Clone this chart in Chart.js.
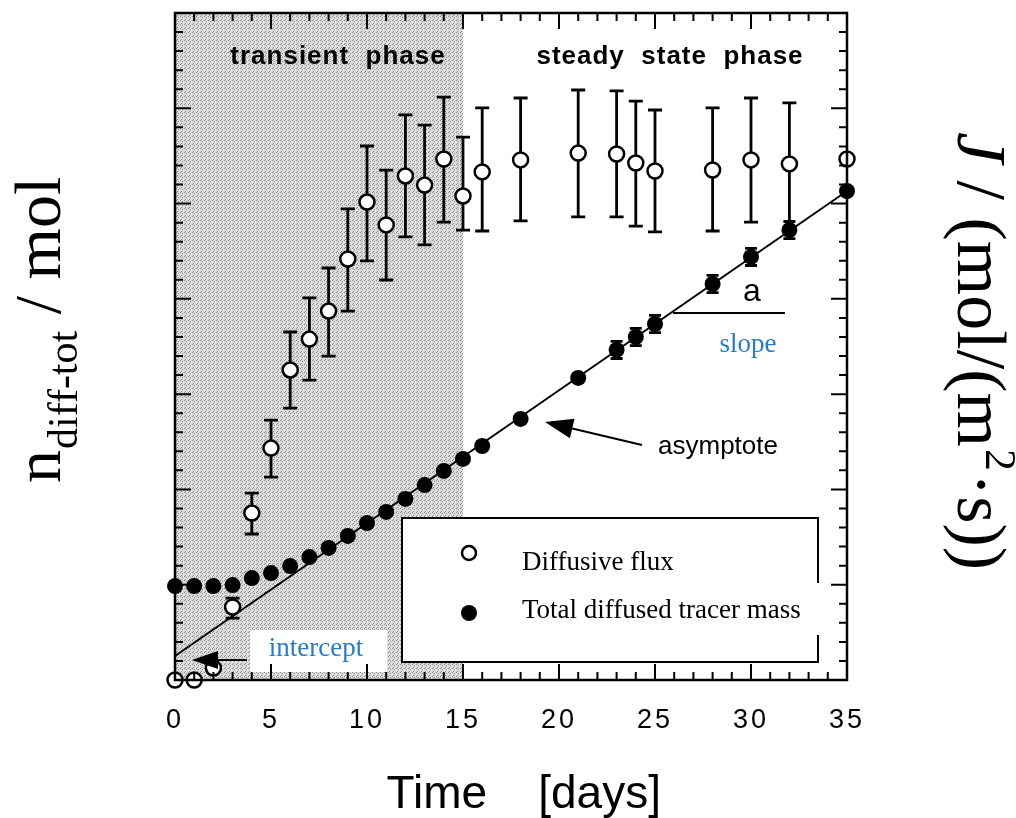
<!DOCTYPE html>
<html>
<head>
<meta charset="utf-8">
<script src="https://cdn.jsdelivr.net/npm/chart.js@4.4.1/dist/chart.umd.min.js"></script>
<style>
  html, body { margin: 0; padding: 0; background: #fff; }
</style>
</head>
<body>
<canvas id="chart" width="1016" height="818"></canvas>
<script>
// sampling days
const days = [0, 1, 2, 3, 4, 5, 6, 7, 8, 9, 10, 11, 12, 13, 14, 15, 16, 18, 21, 23, 24, 25, 28, 30, 32, 35];
// diffusive flux (open circles) and its error bar ends, arbitrary units
const fluxValues = [0, 0, 0.63, 3.83, 8.76, 12.17, 16.27, 17.89, 19.36, 22.09, 25.08, 23.88, 26.45, 25.97, 27.34, 25.4, 26.66, 27.29, 27.65, 27.6, 27.13, 26.71, 26.76, 27.29, 27.08, 27.34];
const fluxHigh = [null, null, null, 4.30, 9.81, 13.64, 18.26, 20.05, 21.62, 24.72, 28.02, 26.76, 29.65, 29.12, 30.59, 28.49, 30.02, 30.54, 30.96, 30.91, 30.38, 29.91, 30.02, 30.54, 30.28, null];
const fluxLow = [null, null, null, 3.25, 7.66, 10.65, 14.27, 15.74, 17.0, 19.36, 21.99, 20.99, 23.25, 22.83, 24.03, 23.61, 23.56, 24.09, 24.30, 24.30, 23.82, 23.51, 23.56, 24.03, 23.72, null];
// total diffused tracer mass (filled circles)
const massValues = [4.93, 4.93, 4.93, 4.98, 5.35, 5.61, 5.98, 6.45, 6.93, 7.56, 8.24, 8.82, 9.5, 10.23, 10.97, 11.6, 12.28, 13.7, 15.85, 17.32, 18.0, 18.68, 20.78, 22.2, 23.61, 25.66];
const massErr = [0, 0, 0, 0, 0, 0, 0, 0, 0, 0, 0, 0, 0, 0, 0, 0, 0, 0, 0, 0.45, 0.45, 0.45, 0.45, 0.45, 0.45, 0];
// fitted asymptote
const asymptoteDays = [0, 35];
const asymptoteValues = [1.26, 25.66];
// transient phase range
const transientPhase = [0, 15];
const xTickLabels = ['0', '5', '10', '15', '20', '25', '30', '35'];

const SANS = '"Liberation Sans", Arial, sans-serif';
const SERIF = '"Liberation Serif", "Times New Roman", serif';
const BLUE = '#2a7ac4';

function stipple(ctx) {
  const c = document.createElement('canvas');
  c.width = 4; c.height = 4;
  const g = c.getContext('2d');
  g.fillStyle = '#dcdcdc';
  g.fillRect(0, 0, 4, 4);
  g.fillStyle = '#8a8a8a';
  [[0, 0], [2, 1], [1, 3]].forEach(([i, j]) => g.fillRect(i, j, 1, 1));
  return ctx.createPattern(c, 'repeat');
}

function arrow(ctx, x0, y0, x1, y1, len, half) {
  const ang = Math.atan2(y1 - y0, x1 - x0);
  const bx = x1 - Math.cos(ang) * len, by = y1 - Math.sin(ang) * len;
  ctx.beginPath();
  ctx.moveTo(x0, y0);
  ctx.lineTo(bx, by);
  ctx.stroke();
  ctx.beginPath();
  ctx.moveTo(x1, y1);
  ctx.lineTo(bx + Math.sin(ang) * half, by - Math.cos(ang) * half);
  ctx.lineTo(bx - Math.sin(ang) * half, by + Math.cos(ang) * half);
  ctx.closePath();
  ctx.fill();
}

const decor = {
  id: 'decor',
  beforeDatasetsDraw(chart) {
    const { ctx, chartArea: a, scales: { x, y } } = chart;
    ctx.save();
    // shaded transient phase
    const xs = x.getPixelForValue(transientPhase[0]);
    const xe = x.getPixelForValue(transientPhase[1]);
    ctx.fillStyle = stipple(ctx);
    ctx.fillRect(xs, a.top, xe - xs, a.bottom - a.top);

    // white boxes behind legend and intercept label
    ctx.fillStyle = '#fff';
    ctx.fillRect(402, 518, 416, 144);
    ctx.fillRect(250, 630, 137, 42);

    // error bars
    ctx.strokeStyle = '#000';
    ctx.lineWidth = 2.8;
    days.forEach((d, i) => {
      const px = x.getPixelForValue(d);
      if (fluxHigh[i] != null) {
        const t = y.getPixelForValue(fluxHigh[i]);
        const b = y.getPixelForValue(fluxLow[i]);
        ctx.beginPath();
        ctx.moveTo(px, t); ctx.lineTo(px, b);
        ctx.moveTo(px - 7, t); ctx.lineTo(px + 7, t);
        ctx.moveTo(px - 7, b); ctx.lineTo(px + 7, b);
        ctx.stroke();
      }
      if (massErr[i]) {
        const t = y.getPixelForValue(massValues[i] + massErr[i]);
        const b = y.getPixelForValue(massValues[i] - massErr[i]);
        ctx.beginPath();
        ctx.moveTo(px - 6, t); ctx.lineTo(px + 6, t);
        ctx.moveTo(px - 6, b); ctx.lineTo(px + 6, b);
        ctx.moveTo(px, t); ctx.lineTo(px, b);
        ctx.stroke();
      }
    });
    ctx.restore();
  },
  afterDatasetsDraw(chart) {
    const { ctx, chartArea: a, scales: { x, y } } = chart;
    ctx.save();
    ctx.strokeStyle = '#000';
    ctx.fillStyle = '#000';

    // frame
    ctx.lineWidth = 2.5;
    ctx.strokeRect(a.left, a.top, a.right - a.left, a.bottom - a.top);

    // inward ticks on all four sides
    ctx.lineWidth = 2;
    ctx.beginPath();
    for (let v = 1; v < 35; v++) {
      const len = v % 5 === 0 ? 16 : 8;
      const px = x.getPixelForValue(v);
      ctx.moveTo(px, a.bottom); ctx.lineTo(px, a.bottom - len);
      ctx.moveTo(px, a.top); ctx.lineTo(px, a.top + len);
      const py = y.getPixelForValue(v);
      ctx.moveTo(a.left, py); ctx.lineTo(a.left + len, py);
      ctx.moveTo(a.right, py); ctx.lineTo(a.right - len, py);
    }
    ctx.stroke();

    // phase labels
    ctx.textAlign = 'center';
    ctx.textBaseline = 'middle';
    ctx.letterSpacing = '1px';
    ctx.font = 'bold 26px ' + SANS;
    ctx.fillText('transient  phase', 338, 57);
    ctx.fillText('steady  state  phase', 670, 57);
    ctx.letterSpacing = '0px';

    // slope marker
    ctx.font = '32px ' + SANS;
    ctx.fillText('a', 752, 292);
    ctx.lineWidth = 2;
    ctx.beginPath();
    ctx.moveTo(673, 313); ctx.lineTo(785, 313);
    ctx.stroke();
    ctx.fillStyle = BLUE;
    ctx.font = '27px ' + SERIF;
    ctx.fillText('slope', 748, 345);
    ctx.fillText('intercept', 316, 649);

    // asymptote label and arrows
    ctx.fillStyle = '#000';
    ctx.font = '26px ' + SANS;
    ctx.fillText('asymptote', 718, 447);
    ctx.lineWidth = 2;
    arrow(ctx, 642, 445, 545, 422, 28, 10);
    arrow(ctx, 247, 660, 192, 660, 26, 9);

    // legend
    ctx.lineWidth = 2;
    ctx.beginPath();
    ctx.moveTo(818, 583); ctx.lineTo(818, 518); ctx.lineTo(402, 518);
    ctx.lineTo(402, 662); ctx.lineTo(818, 662); ctx.lineTo(818, 635);
    ctx.stroke();
    ctx.fillStyle = '#fff';
    ctx.lineWidth = 2.5;
    ctx.beginPath(); ctx.arc(469, 553, 7, 0, Math.PI * 2); ctx.fill(); ctx.stroke();
    ctx.fillStyle = '#000';
    ctx.beginPath(); ctx.arc(469, 613, 8, 0, Math.PI * 2); ctx.fill();
    ctx.textAlign = 'left';
    ctx.textBaseline = 'alphabetic';
    ctx.font = '27px ' + SERIF;
    ctx.fillText(chart.data.datasets[0].label, 522, 570);
    ctx.fillText(chart.data.datasets[1].label, 522, 618);
    ctx.restore();
    // spacing for the tick labels drawn next
    ctx.letterSpacing = '3px';
  },
  afterDraw(chart) {
    const { ctx } = chart;
    ctx.letterSpacing = '0px';
    ctx.save();
    ctx.fillStyle = '#000';
    ctx.textAlign = 'left';
    ctx.textBaseline = 'alphabetic';
    // left axis title
    ctx.save();
    ctx.translate(60, 483);
    ctx.rotate(-Math.PI / 2);
    ctx.font = '66px ' + SERIF;
    ctx.fillText('n', 0, 0);
    let w = ctx.measureText('n').width + 1;
    ctx.font = '42px ' + SERIF;
    ctx.fillText('diff-tot', w, 17);
    w += ctx.measureText('diff-tot').width;
    ctx.font = '66px ' + SERIF;
    ctx.fillText(' / mol', w, 0);
    ctx.restore();
    // right axis title
    ctx.save();
    ctx.translate(958, 132);
    ctx.rotate(Math.PI / 2);
    ctx.font = 'italic 70px ' + SERIF;
    ctx.fillText('J', 0, 0);
    w = ctx.measureText('J').width;
    ctx.font = '70px ' + SERIF;
    ctx.fillText(' / (mol/(m', w, 0);
    w += ctx.measureText(' / (mol/(m').width + 2;
    ctx.font = '44px ' + SERIF;
    ctx.fillText('2', w, -28);
    w += ctx.measureText('2').width + 2;
    ctx.font = '70px ' + SERIF;
    ctx.fillText('·s))', w, 0);
    ctx.restore();
    ctx.restore();
  }
};

new Chart(document.getElementById('chart'), {
  type: 'scatter',
  data: {
    datasets: [
      {
        label: 'Diffusive flux',
        data: days.map((d, i) => ({ x: d, y: fluxValues[i] })),
        pointRadius: 7.5,
        pointBackgroundColor: '#fff',
        pointBorderColor: '#000',
        pointBorderWidth: 2.5,
        clip: false
      },
      {
        label: 'Total diffused tracer mass',
        data: days.map((d, i) => ({ x: d, y: massValues[i] })),
        pointRadius: 8,
        pointBackgroundColor: '#000',
        pointBorderColor: '#000',
        pointBorderWidth: 0,
        clip: false
      },
      {
        label: 'asymptote',
        data: asymptoteDays.map((d, i) => ({ x: d, y: asymptoteValues[i] })),
        showLine: true,
        borderColor: '#000',
        borderWidth: 2,
        pointRadius: 0,
        clip: false
      }
    ]
  },
  options: {
    responsive: false,
    animation: false,
    events: [],
    layout: { padding: { top: 13, right: 169, left: 0, bottom: 0 } },
    plugins: { legend: { display: false }, tooltip: { enabled: false } },
    scales: {
      x: {
        type: 'linear',
        min: 0,
        max: 35,
        afterFit: (s) => { s.height = 138; },
        grid: { display: false, drawTicks: false, tickLength: 0 },
        border: { display: false },
        ticks: {
          stepSize: 5,
          autoSkip: false,
          maxRotation: 0,
          padding: 24,
          z: 1,
          color: '#000',
          font: { family: SANS, size: 27 },
          callback: (v) => xTickLabels[v / 5]
        },
        title: {
          display: true,
          text: '\u00a0\u00a0Time    [days]',
          color: '#000',
          font: { family: SANS, size: 46, lineHeight: 1 },
          padding: { top: 0, bottom: 0 }
        }
      },
      y: {
        type: 'linear',
        min: 0,
        max: 35,
        afterFit: (s) => { s.width = 175; },
        grid: { display: false, drawTicks: false },
        border: { display: false },
        ticks: { display: false, stepSize: 5 }
      }
    }
  },
  plugins: [decor]
});
</script>
</body>
</html>
